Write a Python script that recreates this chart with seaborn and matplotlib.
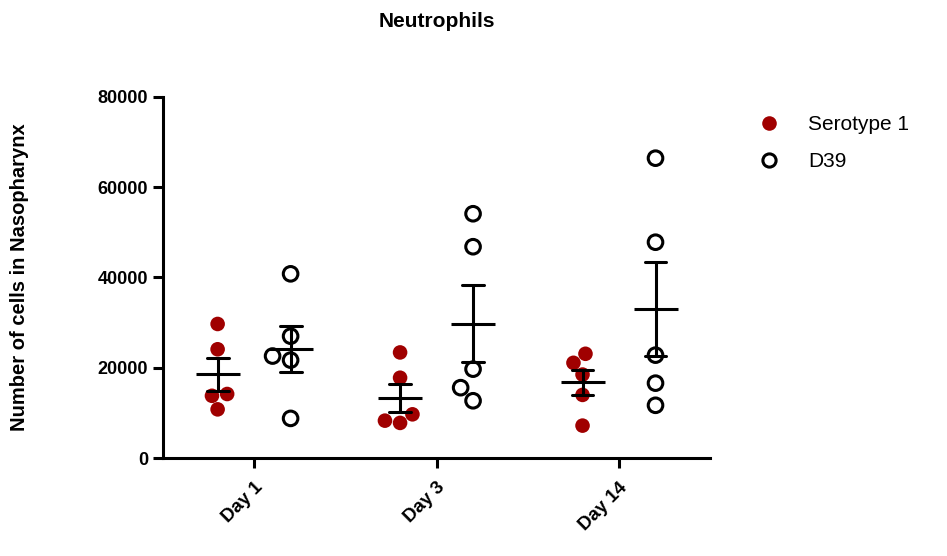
import numpy as np
import pandas as pd
import matplotlib
matplotlib.use("Agg")
import matplotlib.pyplot as plt
from matplotlib.lines import Line2D
import seaborn as sns

# Neutrophil counts in the nasopharynx, five animals per group
days = ["Day 1", "Day 3", "Day 14"]
groups = ["Serotype 1", "D39"]

serotype1_day1 = [29700, 24100, 14200, 13800, 10800]
serotype1_day3 = [23400, 17800, 9700, 7800, 8300]
serotype1_day14 = [21100, 23100, 18500, 14000, 7200]

d39_day1 = [40800, 27000, 22600, 21700, 8800]
d39_day3 = [54100, 46800, 19700, 15600, 12700]
d39_day14 = [66400, 47800, 22800, 16600, 11700]

y_ticks = [0, 20000, 40000, 60000, 80000]

values = {
    ("Serotype 1", "Day 1"): serotype1_day1,
    ("Serotype 1", "Day 3"): serotype1_day3,
    ("Serotype 1", "Day 14"): serotype1_day14,
    ("D39", "Day 1"): d39_day1,
    ("D39", "Day 3"): d39_day3,
    ("D39", "Day 14"): d39_day14,
}
rows = [
    {"Day": day, "Group": grp, "Cells": v}
    for (grp, day), vals in values.items()
    for v in vals
]
df = pd.DataFrame(rows)

RED = "#A00000"
sns.set_theme(style="ticks")
plt.rcParams["font.family"] = ["Liberation Sans", "DejaVu Sans"]
plt.rcParams["text.color"] = "black"
plt.rcParams["axes.labelcolor"] = "black"

fig = plt.figure(figsize=(9.47, 5.56), dpi=100)
ax = fig.add_axes([0.172, 0.176, 0.578, 0.650])

sns.swarmplot(
    data=df, x="Day", y="Cells", hue="Group", order=days, hue_order=groups,
    palette={"Serotype 1": RED, "D39": "white"}, dodge=True,
    size=10.5, ax=ax, legend=False, zorder=2,
)
for coll in ax.collections:
    fc = coll.get_facecolors()
    if len(fc) and np.allclose(fc[0][:3], 1.0):
        coll.set_edgecolor("black")
        coll.set_linewidth(2.2)
    else:
        coll.set_linewidth(0)

# Mean with SEM bars for each group
sns.pointplot(
    data=df, x="Day", y="Cells", hue="Group", order=days, hue_order=groups,
    palette={"Serotype 1": "black", "D39": "black"},
    estimator="mean", errorbar="se", dodge=0.4, linestyle="none",
    marker="_", markersize=32, markeredgewidth=2.2, capsize=0.12,
    err_kws={"linewidth": 2.2, "color": "black"}, legend=False, ax=ax,
)
for line in ax.lines:
    line.set_zorder(3)

ax.set_xlim(-0.5, 2.5)
ax.set_ylim(0, 80000)
ax.set_yticks(y_ticks)
ax.set_yticklabels([str(t) for t in y_ticks])
sns.despine(ax=ax)
for side in ("left", "bottom"):
    ax.spines[side].set_linewidth(2.2)
    ax.spines[side].set_color("black")
ax.tick_params(axis="both", direction="out", length=7, width=2.2, color="black",
               labelsize=13, labelcolor="black")
for lbl in ax.get_yticklabels():
    lbl.set_fontweight("bold")
ax.set_xticks(range(len(days)))
ax.set_xticklabels(days, rotation=45, ha="right", rotation_mode="anchor",
                   fontweight="bold", fontsize=13.5)
ax.tick_params(axis="x", pad=8)

ax.set_xlabel("")
ax.set_ylabel("Number of cells in Nasopharynx", fontsize=14.5, fontweight="bold")
ax.yaxis.set_label_coords(-0.245, 0.5)
fig.text(0.461, 0.962, "Neutrophils", ha="center", va="center",
         fontsize=15, fontweight="bold")

handles = [
    Line2D([], [], ls="none", marker="o", markersize=10.5,
           markerfacecolor=RED, markeredgewidth=0),
    Line2D([], [], ls="none", marker="o", markersize=9.5,
           markerfacecolor="white", markeredgecolor="black", markeredgewidth=2.2),
]
fig.legend(handles, groups, loc="upper left", bbox_to_anchor=(0.781, 0.826),
           frameon=False, fontsize=15, handletextpad=1.4, labelspacing=0.85,
           handlelength=1.0)

fig.savefig("out.png", dpi=100)
